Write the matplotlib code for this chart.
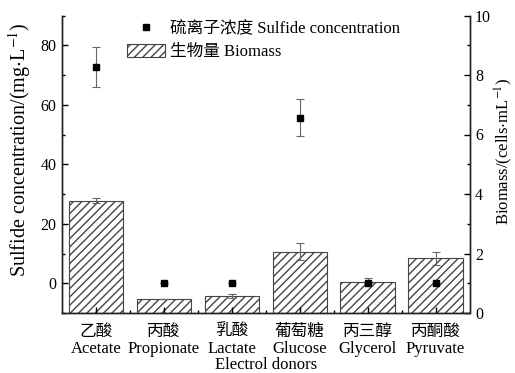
import matplotlib
matplotlib.use('Agg')
import matplotlib.pyplot as plt
from matplotlib.patches import Patch
from matplotlib.lines import Line2D
from matplotlib.ticker import MultipleLocator

plt.rcParams['font.family'] = ['Liberation Serif', 'Noto Sans CJK SC']
plt.rcParams['mathtext.fontset'] = 'stix'
plt.rcParams['axes.unicode_minus'] = False

categories_zh = ['乙酸', '丙酸', '乳酸', '葡萄糖', '丙三醇', '丙酮酸']
categories_en = ['Acetate', 'Propionate', 'Lactate', 'Glucose', 'Glycerol', 'Pyruvate']
sulfide = [72.7, 0.0, 0.0, 55.7, 0.0, 0.0]
sulfide_err = [6.6, 0.0, 0.0, 6.2, 0.0, 0.0]
biomass = [3.78, 0.48, 0.58, 2.06, 1.05, 1.84]
biomass_err = [0.08, 0.0, 0.06, 0.28, 0.14, 0.21]

x = list(range(len(categories_en)))
labels = [f'{z}\n{e}' for z, e in zip(categories_zh, categories_en)]

fig = plt.figure(figsize=(5.15, 3.73), dpi=100)
ax = fig.add_axes([62 / 515, 60 / 373, (469.5 - 62) / 515, (313 - 15.5) / 373])
ax2 = ax.twinx()

edge = '#444444'
ax2.bar(x, biomass, width=0.8, color='white', edgecolor=edge, hatch='////',
        linewidth=0.8, zorder=2)
ax2.errorbar(x, biomass, yerr=biomass_err, fmt='none', ecolor='#666666',
             elinewidth=0.8, capsize=3, capthick=0.8, zorder=3)

ax.errorbar(x, sulfide, yerr=sulfide_err, fmt='s', color='black',
            markersize=5, ecolor='#666666', elinewidth=0.8, capsize=3,
            capthick=0.8, zorder=5)

ax.set_zorder(ax2.get_zorder() + 1)
ax.patch.set_visible(False)

ax.set_xlim(-0.5, 5.5)
ax.set_ylim(-10, 90)
ax2.set_ylim(0, 10)

ax.set_xticks(x)
ax.set_xticklabels(labels, fontsize=12, linespacing=1.05)
ax.set_xticks([i + 0.5 for i in x[:-1]], minor=True)
ax.yaxis.set_major_locator(MultipleLocator(20))
ax.yaxis.set_minor_locator(MultipleLocator(10))
ax2.yaxis.set_major_locator(MultipleLocator(2))
ax2.yaxis.set_minor_locator(MultipleLocator(1))
ax.set_yticks([0, 20, 40, 60, 80])

for a in (ax, ax2):
    a.spines['top'].set_visible(False)
    for s in a.spines.values():
        s.set_linewidth(1.0)
        s.set_color('#222222')
ax.tick_params(axis='both', which='major', direction='in', length=4, width=1,
               labelsize=11.5, pad=4, top=False)
ax.tick_params(axis='both', which='minor', direction='in', length=2.5, width=1, top=False)
ax.tick_params(axis='x', which='major', labelsize=12, pad=8)
ax2.tick_params(axis='y', which='major', direction='in', length=4, width=1,
                labelsize=11.5, pad=4)
ax2.tick_params(axis='y', which='minor', direction='in', length=2.5, width=1)

ax.set_ylabel(r'Sulfide concentration/(mg$\cdot$L$^{-1}$)', fontsize=14.5)
ax.yaxis.set_label_coords(-0.072, 0.55)
ax2.set_ylabel(r'Biomass/(cells$\cdot$mL$^{-1}$)', fontsize=12, rotation=90)
ax2.yaxis.set_label_coords(1.056, 0.545)
ax.set_xlabel('Electrol donors', fontsize=12, labelpad=0)

handles = [Line2D([], [], marker='s', color='black', linestyle='none', markersize=5),
           Patch(facecolor='white', edgecolor=edge, hatch='////', linewidth=0.8)]
leg_labels = ['硫离子浓度 Sulfide concentration', '生物量 Biomass']
ax.legend(handles, leg_labels, loc='upper left', bbox_to_anchor=(127 / 515, 1 - 21 / 373),
          bbox_transform=fig.transFigure, frameon=False, fontsize=12,
          borderpad=0, borderaxespad=0, handlelength=2.3, handleheight=0.9,
          handletextpad=0.25, labelspacing=0.35)

fig.savefig('out.png', dpi=100)
